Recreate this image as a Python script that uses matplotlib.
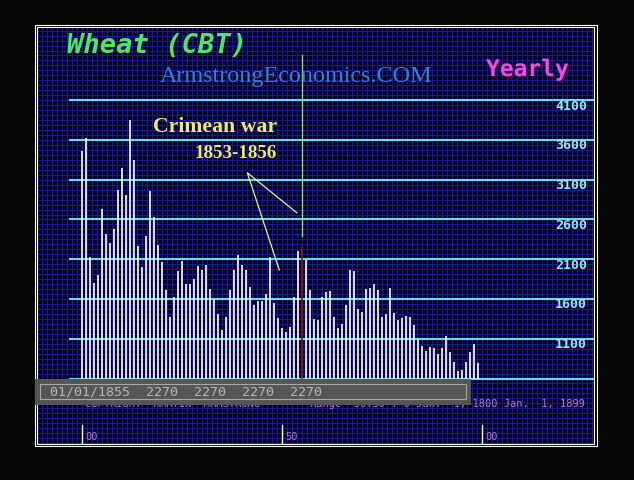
import matplotlib
matplotlib.use('Agg')
import matplotlib.pyplot as plt
from matplotlib.patches import Rectangle
import matplotlib.patheffects as pe
from matplotlib.transforms import ScaledTranslation, blended_transform_factory
import numpy as np

# ---------------- data ----------------
years = list(range(1800, 1900))
prices = [3460, 3630, 2125, 1800, 1900, 2730, 2415, 2300, 2480, 2970,
          3245, 2905, 3850, 3345, 2265, 2000, 2395, 2955, 2630, 2275,
          2060, 1710, 1370, 1620, 1950, 2075, 1785, 1785, 1850, 2010,
          1960, 2025, 1725, 1600, 1410, 1205, 1370, 1710, 1960, 2150,
          2025, 1960, 1750, 1520, 1570, 1570, 1660, 2125, 1545, 1360,
          1230, 1180, 1245, 1620, 2200, 2270, 2085, 1710, 1345, 1335,
          1620, 1685, 1700, 1370, 1230, 1285, 1520, 1960, 1950, 1470,
          1435, 1725, 1735, 1785, 1710, 1370, 1410, 1735, 1420, 1335,
          1360, 1385, 1370, 1270, 1080, 1005, 945, 995, 980, 905,
          980, 1130, 930, 805, 690, 705, 805, 930, 1030, 790]
cursor_year = 1855
level_ticks = [600, 1100, 1600, 2100, 2600, 3100, 3600, 4100]
decade_ticks = [1800, 1850, 1900]
title = "Wheat (CBT)"
site = "ArmstrongEconomics.COM"
period = "Yearly"
note1 = "Crimean war"
note2 = "1853-1856"
footer = "COPYRIGHT  MARTIN  ARMSTRONG        Range  30.30 : 0 Jan.  1, 1800 Jan.  1, 1899"

cursor_val = prices[years.index(cursor_year)]
status = f"01/01/{cursor_year}  {cursor_val}  {cursor_val}  {cursor_val}  {cursor_val}"

# ---------------- geometry (pixels) ----------------
W, H = 634, 480
PL, PR, PT, PB = 37, 594, 27, 443.5
X0PX, PX_PER_YEAR = 82.4, 4.0
Y0PX, Y0VAL, PX_PER_UNIT = 378.5, 600, 278.3 / 3500

fig = plt.figure(figsize=(W / 100, H / 100), dpi=100, facecolor='#060606')

# background + grid
bg = fig.add_axes([0, 0, 1, 1], zorder=0)
bg.set_xlim(0, W); bg.set_ylim(H, 0); bg.axis('off')
bg.add_patch(Rectangle((PL, PT), PR - PL, PB - PT, facecolor='#00001c', edgecolor='none'))
GRID = '#1a1a98'
for gx in np.arange(X0PX - 9 * 5.0, PR, 5.0):
    bg.plot([gx, gx], [PT, PB], color=GRID, lw=0.8, solid_capstyle='butt')
for gy in np.arange(100.2 - 14 * 4.97, PB, 4.97):
    if gy > PT:
        bg.plot([PL, PR], [gy, gy], color=GRID, lw=0.8, solid_capstyle='butt')

# data axes
ax = fig.add_axes([PL / W, 1 - PB / H, (PR - PL) / W, (PB - PT) / H], zorder=1)
ax.patch.set_alpha(0)
ax.axis('off')
ax.set_xlim(1800 + (PL - X0PX) / PX_PER_YEAR, 1800 + (PR - X0PX) / PX_PER_YEAR)
ax.set_ylim(Y0VAL - (PB - Y0PX) / PX_PER_UNIT, Y0VAL + (Y0PX - PT) / PX_PER_UNIT)

for v in level_ticks:
    ax.axhline(v, xmin=(70 - PL) / (PR - PL), xmax=1, color='#64DCF0', lw=1.5, zorder=2)
lab_tr = blended_transform_factory(ax.transAxes, ax.transData) + ScaledTranslation(0, -0.06, fig.dpi_scale_trans)
for v in level_ticks[1:]:
    ax.text((587 - PL) / (PR - PL), v, f"{v}", transform=lab_tr, ha='right', va='center',
            family='DejaVu Sans Mono', fontweight='bold', fontsize=9.6, color='#9AE6F0', zorder=3)

bar_colors = ['#8a1616' if y == cursor_year else 'white' for y in years]
ax.vlines(years, Y0VAL, prices, colors=bar_colors, lw=1.2, zorder=4)

# cursor line
ax.axvline(cursor_year, ymin=(PB - 236) / (PB - PT), ymax=(PB - 55) / (PB - PT), color='#80E080', lw=1.0, zorder=5)

# x ticks
for yv in decade_ticks:
    ax.axvline(yv, ymin=0, ymax=(PB - 425) / (PB - PT), color='white', lw=1.0, zorder=5)
    ax.text(yv, (PB - 437.5) / (PB - PT), f"{yv % 100:02d}",
            transform=blended_transform_factory(ax.transData, ax.transAxes) + ScaledTranslation(0.025, 0, fig.dpi_scale_trans),
            ha='left', va='center', family='DejaVu Sans Mono', fontsize=7.5, color='#B070E0', zorder=5)

# overlay
ov = fig.add_axes([0, 0, 1, 1], zorder=2)
ov.set_xlim(0, W); ov.set_ylim(H, 0); ov.axis('off')
ov.patch.set_alpha(0)

r = fig.canvas.get_renderer()
def fit(t, target_w):
    w = t.get_window_extent(r).width
    t.set_fontsize(t.get_fontsize() * target_w / w)
    return t

# borders
ov.add_patch(Rectangle((34.5, 24.5), 562, 421.5, facecolor='none', edgecolor='white', lw=0.8, zorder=1))
ov.add_patch(Rectangle((PL, PT), PR - PL, PB - PT, facecolor='none', edgecolor='white', lw=0.8, zorder=1))

# footer text (partly hidden)
ov.text(84.7, 404.3, footer, ha='left', va='center', family='DejaVu Sans Mono', fontsize=7.47,
        color='#C070E0', zorder=1)

# status box
ov.add_patch(Rectangle((34.7, 379), 436, 25.7, facecolor='#555555', edgecolor='none', zorder=2))
ov.add_patch(Rectangle((40, 384), 425.7, 15.3, facecolor='none', edgecolor='#A8A8A8', lw=0.8, zorder=3))
fit(ov.text(50, 392, status, ha='left', va='center', family='DejaVu Sans Mono', fontsize=10,
            color='#B8B8B8', zorder=4), 273)

# titles
ov.text(67, 53, title, ha='left', va='baseline', family='DejaVu Sans Mono', fontweight='bold',
        fontstyle='italic', fontsize=19.5, color='#50E664', zorder=5)
ov.text(486, 76, period, ha='left', va='baseline', family='DejaVu Sans Mono', fontweight='bold',
        fontsize=16.5, color='#E650E6', zorder=5,
        path_effects=[pe.withSimplePatchShadow(offset=(1.2, -1.2), shadow_rgbFace='#4a104a', alpha=1)])
fit(ov.text(160, 82, site, ha='left', va='baseline', family='Liberation Serif', fontsize=17,
            color='#3282DC', zorder=5), 272)

# annotation
fit(ov.text(277, 131.7, note1, ha='right', va='baseline', family='Liberation Serif', fontweight='bold',
            fontsize=15, color='#F0E870', zorder=5), 124)
fit(ov.text(277, 158, note2, ha='right', va='baseline', family='Liberation Serif', fontweight='bold',
            fontsize=14, color='#F0E870', zorder=5), 83)
ov.plot([296.7, 247.3, 279.3], [212.7, 172.7, 270], color='#EEEE9A', lw=0.9, zorder=5)

fig.savefig('out.png', dpi=100, facecolor=fig.get_facecolor())
